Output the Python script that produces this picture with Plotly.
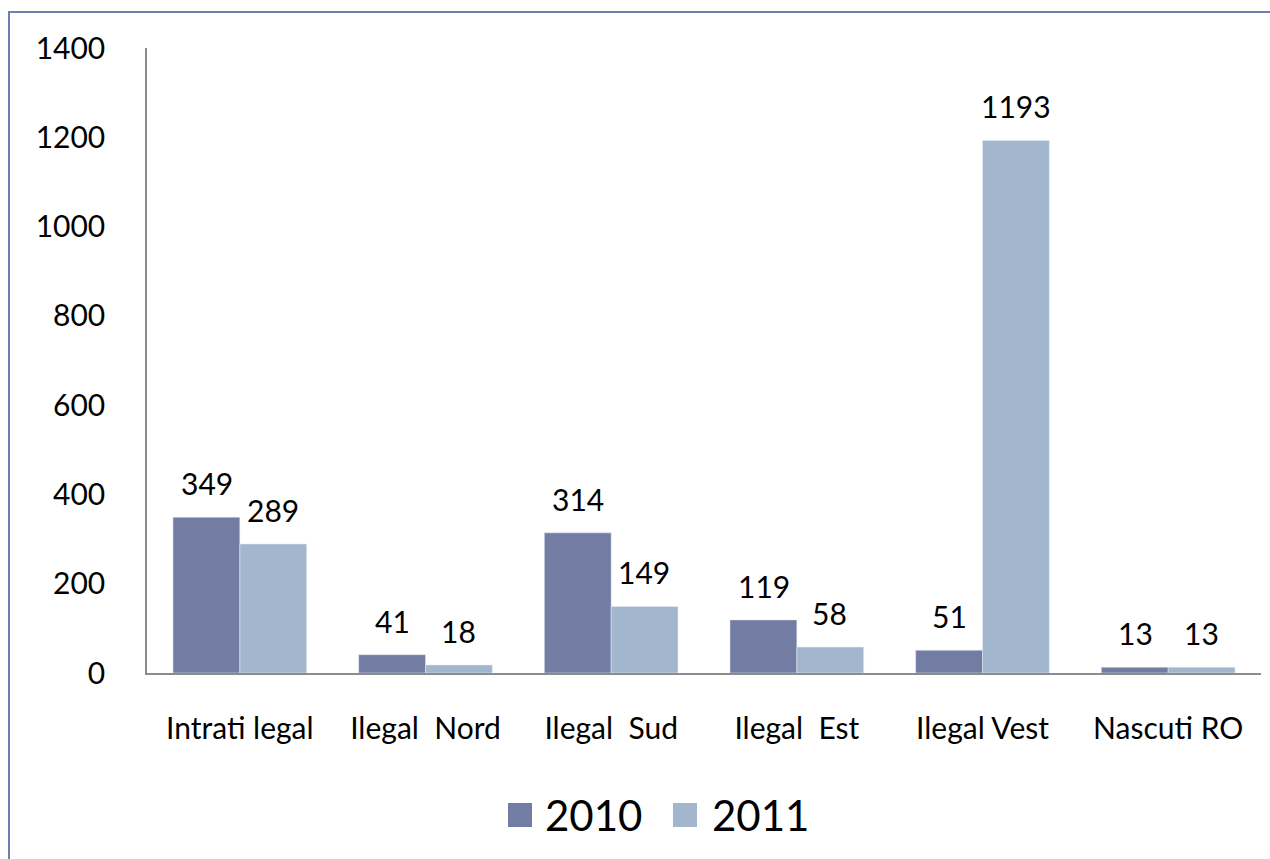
import plotly.graph_objects as go

categories = ["Intrati legal", "Ilegal  Nord", "Ilegal  Sud", "Ilegal  Est", "Ilegal Vest", "Nascuti RO"]
values_2010 = [349, 41, 314, 119, 51, 13]
values_2011 = [289, 18, 149, 58, 1193, 13]
series_names = ["2010", "2011"]
y_ticks = [0, 200, 400, 600, 800, 1000, 1200, 1400]

FONT = "Lato"
C2010 = "#737DA3"
C2011 = "#A2B7CE"
colors = [C2010, C2011]

fig = go.Figure()
fig.add_trace(go.Bar(name=series_names[0], x=categories, y=values_2010, marker_color=C2010))
fig.add_trace(go.Bar(name=series_names[1], x=categories, y=values_2011, marker_color=C2011))

ann = []
for i, c in enumerate(categories):
    for vals, dx in ((values_2010, -33), (values_2011, 33)):
        ann.append(dict(x=c, y=vals[i], xref="x", yref="y", text=str(vals[i]), showarrow=False,
                        xshift=dx, yshift=34, yanchor="middle",
                        font=dict(family=FONT, size=30, color="#000000")))

L, R, T, B = 147, 9, 48, 186
W, H = 1270, 859
pw, ph = W - L - R, H - T - B
def px(x):
    return (x - L) / pw
def py(y):
    return (H - B - y) / ph

border = "#6F7FB0"
border_path = "M {} {} L {} {} L {} {}".format(px(9), py(880), px(9), py(12), px(1300), py(12))
shapes = [
    dict(type="path", xref="paper", yref="paper", path=border_path,
         line=dict(color=border, width=2), fillcolor="rgba(0,0,0,0)"),
]

# legend drawn as swatches + labels
leg_sq_x = [508, 673]
leg_txt_x = [543, 710]
for name, col, sx, tx in zip(series_names, colors, leg_sq_x, leg_txt_x):
    shapes.append(dict(type="rect", xref="paper", yref="paper",
                       x0=px(sx), x1=px(sx + 24), y0=py(827), y1=py(803),
                       fillcolor=col, line=dict(width=0)))
    ann.append(dict(x=px(tx), y=py(815), xref="paper", yref="paper", text=name, showarrow=False,
                    xanchor="left", yanchor="middle", font=dict(family=FONT, size=42, color="#000000")))

fig.update_layout(
    width=W, height=H,
    margin=dict(l=L, r=R, t=T, b=B),
    paper_bgcolor="white", plot_bgcolor="white",
    barmode="group", bargap=0.28, bargroupgap=0,
    font=dict(family=FONT, size=30, color="#000000"),
    showlegend=False,
    annotations=ann,
    shapes=shapes,
)
fig.update_xaxes(showline=True, linecolor="#8C8C8C", linewidth=1.5, showgrid=False, ticks="",
                 tickfont=dict(family=FONT, size=30), ticklabelstandoff=28)
fig.update_yaxes(range=[0, 1400], tickvals=y_ticks, showline=True, linecolor="#8C8C8C", linewidth=1.5,
                 showgrid=False, zeroline=False, ticks="", tickfont=dict(family=FONT, size=30),
                 ticklabelstandoff=34)

fig.write_html("out.html", config={"displayModeBar": False},
               post_script=("document.body.style.margin='0';"
                            "document.body.style.overflow='hidden';"
                            "document.documentElement.style.overflow='hidden';"))
